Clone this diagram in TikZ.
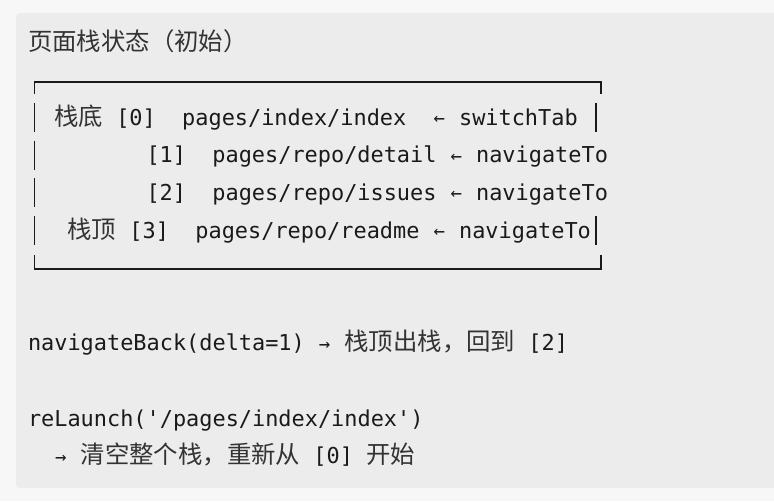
\documentclass[tikz,border=0pt]{standalone}
\usepackage{fontspec}
\setmonofont{DejaVu Sans Mono}
\newfontfamily\cjkfont{Noto Sans CJK SC}
\definecolor{pagebg}{HTML}{F7F7F7}
\definecolor{codebg}{HTML}{ECECEC}
\definecolor{ink}{HTML}{1A1A1A}
\definecolor{cjkink}{HTML}{333333}
\newcommand{\zh}[1]{{\cjkfont\fontsize{24.4pt}{30pt}\selectfont\color{cjkink}#1}}
\newcommand{\myla}{\makebox[13.17pt][c]{\raisebox{0.6pt}{\fontsize{19pt}{19pt}\selectfont ←}}}
\newcommand{\myra}{\makebox[13.17pt][c]{\raisebox{0.6pt}{\fontsize{19pt}{19pt}\selectfont →}}}
\begin{document}
\begin{tikzpicture}[x=1pt,y=-1pt,
  txt/.style={anchor=base west, inner sep=0pt, outer sep=0pt,
    font=\ttfamily\fontsize{21.9pt}{37.6pt}\selectfont, text=ink},
  frame/.style={draw=ink, line width=1.6pt}]
\clip (0,0) rectangle (774,501);
\fill[pagebg] (0,0) rectangle (774,501);
\useasboundingbox (0,0) rectangle (774,501);
\fill[codebg, rounded corners=4pt] (16,13) rectangle (800,488);

\node[txt] (title) at (28,50) {\zh{页面栈状态（初始）}};
\node[txt] (row0) at (54.3,125.2) {\zh{栈底}~[0]~~pages/index/index~~\myla~switchTab};
\node[txt] (row1) at (146.5,162.8) {[1]~~pages/repo/detail~\myla~navigateTo};
\node[txt] (row2) at (146.5,200.4) {[2]~~pages/repo/issues~\myla~navigateTo};
\node[txt] (row3) at (67.5,238) {\zh{栈顶}~[3]~~pages/repo/readme~\myla~navigateTo};
\node[txt] (back) at (28,350.8) {navigateBack(delta=1)~\myra~\zh{栈顶出栈，回到}~[2]};
\node[txt] (relaunch) at (28,426) {reLaunch('/pages/index/index')};
\node[txt] (relaunchnote) at (54.3,463.6) {\myra~\zh{清空整个栈，重新从}~[0]~\zh{开始}};

% stack frame
\draw[frame] (34.5,94) -- (34.5,81.7) -- (600.9,81.7) -- (600.9,94);
\draw[frame] (34.5,255) -- (34.5,269) -- (600.9,269) -- (600.9,255);
\foreach \b in {125.2,162.8,200.4,238}
  \draw[frame] (34.5,\b-22) -- (34.5,\b+7);
\foreach \b in {125.2,238}
  \draw[frame] (596,\b-22) -- (596,\b+7);
\end{tikzpicture}
\end{document}
